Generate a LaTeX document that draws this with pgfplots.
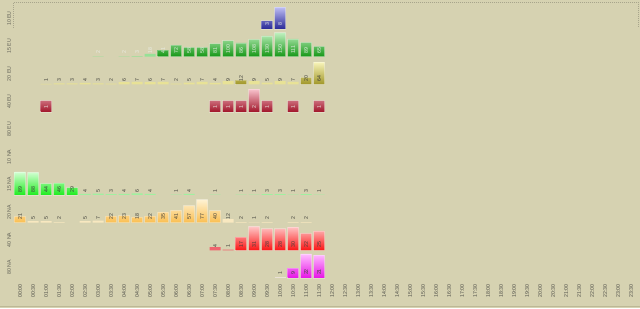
\documentclass[border=0pt]{standalone}
\usepackage{pgfplots}
\pgfplotsset{compat=1.18}
\usepackage{pgfplotstable}
\usepackage{fontspec}
\setmainfont{Liberation Sans}
\definecolor{bg}{RGB}{214,210,177}
\definecolor{framec}{RGB}{168,165,140}
\definecolor{rowlab}{RGB}{95,95,85}
\definecolor{tickc}{RGB}{75,75,70}
\definecolor{darklab}{RGB}{60,60,55}
\definecolor{lightlab}{RGB}{235,238,232}
% bar colours: top / bottom / small
\definecolor{At}{RGB}{190,190,245}\definecolor{Ab}{RGB}{40,40,150}\definecolor{As}{RGB}{180,180,240}
\definecolor{Bt}{RGB}{190,240,190}\definecolor{Bb}{RGB}{20,150,20}\definecolor{Bs}{RGB}{150,225,150}
\definecolor{Ct}{RGB}{248,244,185}\definecolor{Cb}{RGB}{160,150,40}\definecolor{Cs}{RGB}{232,226,150}
\definecolor{Dt}{RGB}{248,195,205}\definecolor{Db}{RGB}{160,20,40}\definecolor{Ds}{RGB}{245,180,190}
\definecolor{Et}{RGB}{210,255,210}\definecolor{Eb}{RGB}{30,235,30}\definecolor{Es}{RGB}{160,240,160}
\definecolor{Ft}{RGB}{255,242,210}\definecolor{Fb}{RGB}{250,190,80}\definecolor{Fs}{RGB}{248,232,192}
\definecolor{Gt}{RGB}{255,200,200}\definecolor{Gb}{RGB}{250,20,20}\definecolor{Gs}{RGB}{240,100,110}
\definecolor{Ht}{RGB}{255,190,255}\definecolor{Hb}{RGB}{230,20,230}\definecolor{Hs}{RGB}{235,225,215}
\newcommand\lab{\fontsize{5.2}{6}\selectfont}

% 10 EU
\pgfplotstableread{
x v
19 3
20 8
}\tA
% 15 EU
\pgfplotstableread{
x v
6 2
8 2
9 3
10 18
11 41
12 72
13 58
14 58
15 81
16 100
17 86
18 108
19 130
20 150
21 111
22 89
23 65
}\tB
% 20 EU
\pgfplotstableread{
x v
2 1
3 3
4 3
5 4
6 3
7 2
8 6
9 7
10 6
11 7
12 2
13 5
14 7
15 4
16 9
17 12
18 9
19 5
20 9
21 7
22 20
23 64
}\tC
% 40 EU
\pgfplotstableread{
x v
2 1
15 1
16 1
17 1
18 2
19 1
21 1
23 1
}\tD
% 15 NA
\pgfplotstableread{
x v
0 89
1 88
2 44
3 46
4 29
5 4
6 5
7 3
8 4
9 6
10 4
12 1
13 4
15 1
17 1
18 1
19 3
20 3
21 1
22 3
23 1
}\tE
% 20 NA
\pgfplotstableread{
x v
0 21
1 5
2 5
3 2
5 5
6 7
7 22
8 23
9 18
10 22
11 35
12 41
13 57
14 77
15 40
16 12
17 2
18 1
19 2
21 2
22 2
}\tF
% 40 NA
\pgfplotstableread{
x v
15 4
16 1
17 17
18 31
19 28
20 28
21 30
22 22
23 25
}\tG
% 80 NA
\pgfplotstableread{
x v
20 1
21 9
22 22
23 21
}\tH

\pgfplotsset{
 rowaxis/.style={
   scale only axis, width=624pt, height=27.66pt,
   xmin=-0.5, xmax=47.5, ymin=0,
   axis line style={draw=none}, tick style={draw=none},
   xtick=\empty, ytick=\empty, clip=false,
   anchor=south west,
 },
 extra/.style={},
}

% #1 baseline y (pt), #2 ymax, #3 table, #4 colour prefix, #5 label colour, #6 label pos, #7 threshold
\newcommand\rowplot[7]{%
\begin{axis}[rowaxis, at={(13.5pt,#1pt)}, ymax=#2, extra]
\addplot[ybar, bar width=11pt, bar shift=0pt, draw=white, draw opacity=0.28, line width=0.6pt,
  top color=#4t, middle color=#4b!88!#4t, bottom color=#4b, restrict y to domain=#7:100000] table[x=x,y=v] {#3};
\addplot[ybar, bar width=11pt, bar shift=0pt, draw=none, fill=#4s,
  restrict y to domain=0:#7] table[x=x,y=v] {#3};
\addplot[draw=none, nodes near coords, point meta=explicit symbolic,
  every node near coord/.style={rotate=90, anchor=west, font=\lab, text=#5, inner sep=0pt}]
  table[x=x, y expr={#6}, meta=v] {#3};
\end{axis}}

\begin{document}
\begin{tikzpicture}[x=1pt,y=1pt]
\useasboundingbox (0,0) rectangle (640,308);
\fill[bg] (0,0) rectangle (640,308);
% frame remnants
\draw[framec, line width=0.8pt, dash pattern=on 1pt off 1pt] (13,280) -- (13,305.5) -- (638,305.5) -- (638,280);
\draw[color={rgb,255:red,188;green,184;blue,150}, line width=1pt] (0,1.2) -- (640,1.2);

\rowplot{279}{10.07}{\tA}{A}{lightlab}{1.02}{0.5}
\rowplot{251.3}{173}{\tB}{B}{lightlab}{17.5}{18.5}
\rowplot{223.7}{79.5}{\tC}{C}{darklab}{8.05}{9.5}
\rowplot{196}{2.41}{\tD}{D}{lightlab}{0.244}{0.5}
\rowplot{113}{107}{\tE}{E}{darklab}{10.8}{9.5}
\rowplot{85.4}{92.7}{\tF}{F}{darklab}{9.4}{12.5}
\rowplot{57.7}{35.7}{\tG}{G}{darklab}{3.61}{4.5}
\pgfplotsset{extra/.style={xtick={0,...,47},
  xticklabels={00:00,00:30,01:00,01:30,02:00,02:30,03:00,03:30,04:00,04:30,05:00,05:30,06:00,06:30,07:00,07:30,08:00,08:30,09:00,09:30,10:00,10:30,11:00,11:30,12:00,12:30,13:00,13:30,14:00,14:30,15:00,15:30,16:00,16:30,17:00,17:30,18:00,18:30,19:00,19:30,20:00,20:30,21:00,21:30,22:00,22:30,23:00,23:30},
  xticklabel style={rotate=90, anchor=east, font=\lab, text=tickc, inner sep=0pt}, xticklabel shift=6.5pt}}
\rowplot{30.1}{25.4}{\tH}{H}{darklab}{2.57}{1.5}

% row labels
\foreach \yy/\tt in {289.5/10 EU, 261.8/15 EU, 234.2/20 EU, 206.5/40 EU, 178.9/80 EU, 151.2/10 NA, 123.5/15 NA, 95.9/20 NA, 68.2/40 NA, 40.6/80 NA}
  \node[rotate=90, font=\lab, text=rowlab, inner sep=0pt] at (9,\yy) {\tt};
\end{tikzpicture}
\end{document}
